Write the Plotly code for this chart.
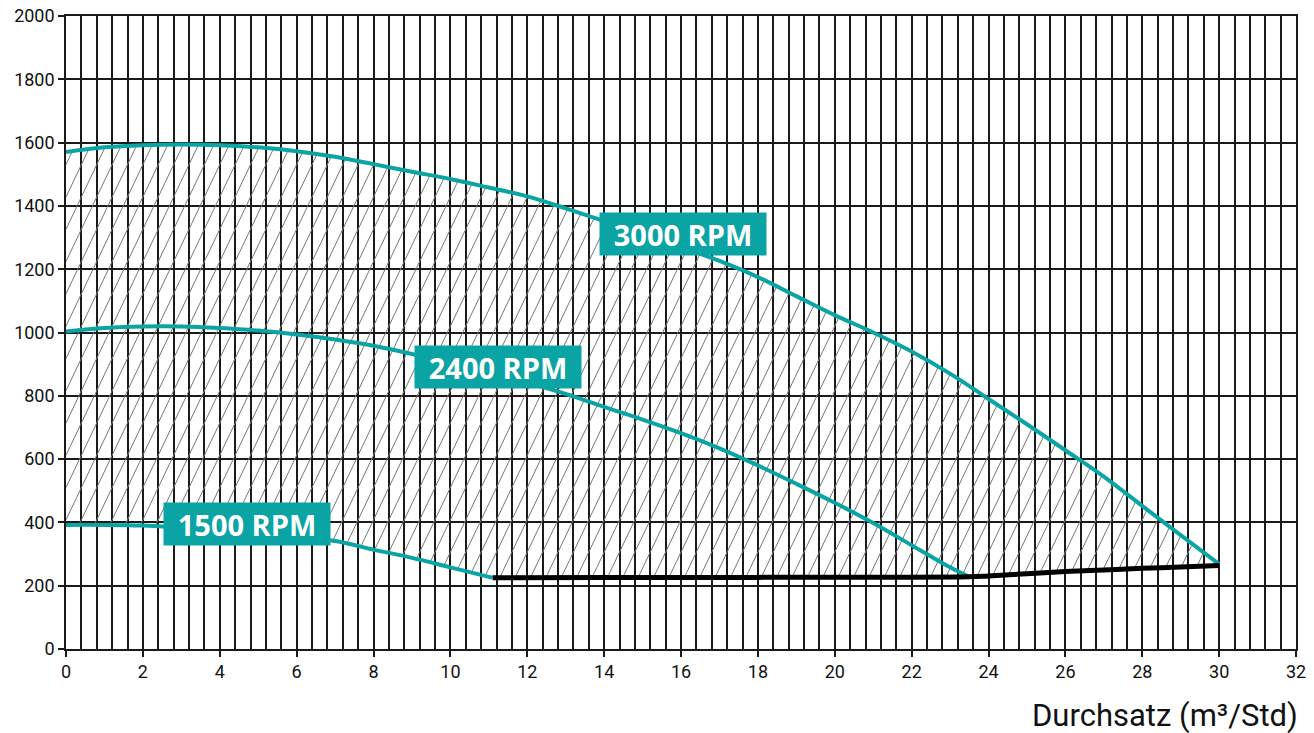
import numpy as np
import plotly.graph_objects as go

# ---- data ----
x3000 = [0, 1, 2, 3, 4, 5, 6, 7, 8, 9, 10, 11, 12, 13, 14, 15, 16, 17, 18, 19, 20, 21, 22, 23, 24, 25, 26, 27, 28, 29, 30]
y3000 = [1570, 1585, 1592, 1594, 1592, 1585, 1573, 1555, 1532, 1508, 1485, 1458, 1430, 1392, 1352, 1311, 1270, 1226, 1175, 1115, 1055, 1000, 940, 870, 790, 710, 628, 545, 452, 360, 268]

x2400 = [0, 1, 2, 3, 4, 5, 6, 7, 8, 9, 10, 11, 12, 13, 14, 15, 16, 17, 18, 19, 20, 21, 22, 23, 23.5]
y2400 = [1003, 1014, 1019, 1019, 1014, 1006, 994, 978, 958, 932, 903, 873, 842, 806, 765, 725, 682, 634, 580, 522, 462, 398, 328, 258, 228]

x1500 = [0, 1, 2, 2.5, 3, 4, 5, 6, 7, 8, 9, 10, 11, 11.1]
y1500 = [392, 392, 390, 387, 385, 378, 368, 356, 341, 314, 288, 258, 228, 225]

x_min = [11.1, 14, 17, 20, 23.5, 24, 25, 26, 27, 28, 29, 30]
y_min = [225, 226, 226, 227, 228, 231, 238, 245, 250, 255, 259, 264]

labels = ["3000 RPM", "2400 RPM", "1500 RPM"]
x_title = "Durchsatz (m³/Std)"

TEAL = "#0AA4A4"

# ---- hatch lines inside the working area (between 3000 curve and lower limit) ----
lx = np.array(x1500[:-1] + x_min)
ly = np.array(y1500[:-1] + y_min)
ux = np.array(x3000, dtype=float)
uy = np.array(y3000, dtype=float)
slope = 2.1 * (38.44 / 0.3165)  # data units: steep "/" hatch
hx, hy = [], []
xs = np.linspace(0, 30, 3001)
U = np.interp(xs, ux, uy)
L = np.interp(xs, lx, ly)
for c in np.arange(-20, 30.4, 0.4):
    yline = slope * (xs - c)
    inside = (yline >= L) & (yline <= U)
    if inside.any():
        idx = np.where(inside)[0]
        hx += [xs[idx[0]], xs[idx[-1]], None]
        hy += [yline[idx[0]], yline[idx[-1]], None]

fig = go.Figure()
fig.add_trace(go.Scatter(x=hx, y=hy, mode="lines", line=dict(color="#777777", width=1),
                         hoverinfo="skip", showlegend=False))
for xx, yy in [(x3000, y3000), (x2400, y2400), (x1500, y1500)]:
    fig.add_trace(go.Scatter(x=xx, y=yy, mode="lines", line=dict(color=TEAL, width=4, shape="spline"),
                             showlegend=False))
fig.add_trace(go.Scatter(x=x_min, y=y_min, mode="lines", line=dict(color="#000000", width=5, shape="spline"),
                         showlegend=False))

label_pos = [(16.06, 1311), (11.25, 891), (4.70, 395)]
for t, (ax_, ay_) in zip(labels, label_pos):
    fig.add_annotation(x=ax_, y=ay_, text="<b>%s</b>" % t, showarrow=False,
                       font=dict(family="Open Sans", size=29, color="white"),
                       bgcolor=TEAL, borderpad=3, width=160, height=36,
                       xanchor="center", yanchor="middle")

fig.add_annotation(xref="paper", yref="paper", x=1, y=-0.105, xshift=4, text=x_title, showarrow=False,
                   xanchor="right", yanchor="middle", font=dict(family="Roboto", size=31, color="#111111"))

grid = "#1a1a1a"
fig.update_xaxes(range=[0, 32], dtick=2, tick0=0, showgrid=True, gridcolor=grid, gridwidth=1.6,
                 minor=dict(dtick=0.4, tick0=0, showgrid=True, gridcolor=grid, gridwidth=1.6),
                 ticks="outside", ticklen=6, tickcolor=grid, tickwidth=1.6,
                 showline=True, linecolor=grid, linewidth=1.6, mirror=True, zeroline=False,
                 tickfont=dict(family="Roboto", size=18, color="#111111"))
fig.update_yaxes(range=[0, 2000], dtick=200, tick0=0, showgrid=True, gridcolor=grid, gridwidth=1.6,
                 ticks="outside", ticklen=6, tickcolor=grid, tickwidth=1.6,
                 showline=True, linecolor=grid, linewidth=1.6, mirror=True, zeroline=False,
                 tickfont=dict(family="Roboto", size=18, color="#111111"))
fig.update_layout(width=1314, height=733, margin=dict(l=66, r=18, t=16, b=84, autoexpand=False),
                  plot_bgcolor="white", paper_bgcolor="white", showlegend=False)
fig.write_html("out.html", config={"displayModeBar": False},
               post_script="document.body.style.margin='0';document.body.style.overflow='hidden';")
